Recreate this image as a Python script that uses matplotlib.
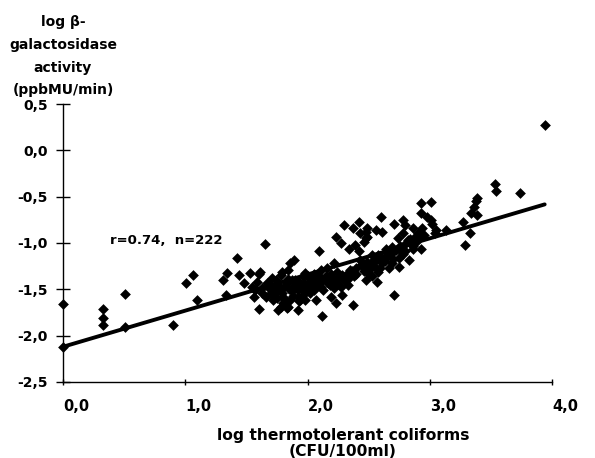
import matplotlib
matplotlib.use("Agg")
import matplotlib.pyplot as plt
import numpy as np

# log thermotolerant coliforms (CFU/100ml)
x_vals = [
    0.00, 0.00, 0.33, 0.33, 0.33, 0.51, 0.51, 0.90, 1.01, 1.06, 1.10,
    1.42, 1.34, 1.31, 1.44, 1.33, 1.53, 1.48, 1.61, 1.55, 1.59, 1.63, 1.56, 1.60,
    1.67, 1.70, 1.72, 1.75, 1.79, 1.86, 1.87, 1.83, 1.80, 1.83, 1.76, 1.86, 1.92,
    1.94, 1.97, 2.00, 2.02, 2.07, 2.09,
    1.65, 1.89, 1.60, 1.78, 1.84, 1.68, 1.74, 1.76, 1.90, 1.96, 1.98, 2.01, 1.63,
    1.66, 1.57, 1.71, 1.75, 1.79, 1.82, 1.84, 1.78, 1.87, 1.92, 1.93, 1.97, 1.98,
    2.04, 2.05, 1.92,
    2.42, 2.37, 2.30, 2.48, 2.49, 2.23, 2.27, 2.39, 2.34, 2.42, 2.09, 2.46, 2.22,
    2.43, 2.46, 2.49, 2.35, 2.38, 2.05, 2.11, 2.16, 2.08, 2.15, 2.19, 2.24, 2.28,
    2.11, 2.17, 2.23, 2.30, 2.05, 2.13, 2.22, 2.27, 2.33, 2.07, 2.19, 2.28, 2.37,
    2.12, 2.43, 2.23,
    2.93, 2.93, 2.60, 2.78, 2.80, 2.71, 2.56, 2.61, 2.49, 2.48, 2.86, 2.90, 2.94,
    2.78, 2.74, 2.82, 2.89, 2.64, 2.69, 2.75, 2.80, 2.86, 2.53, 2.58, 2.64, 2.75,
    2.83, 2.54, 2.61, 2.69, 2.50, 2.59, 2.67, 2.75, 2.53, 2.57, 2.48, 2.71,
    3.01, 3.38, 3.36, 3.39, 2.98, 3.01, 3.02, 3.34, 3.39, 3.27, 3.13, 3.05, 3.04,
    3.33, 3.29, 2.93, 2.95, 3.94, 3.53, 3.54, 3.74, 2.84,
    1.73, 1.77, 1.81, 1.85, 1.89, 1.95, 1.99, 2.03, 1.69, 1.80, 1.88, 1.96, 2.00,
    1.84, 1.93, 1.71,
    2.14, 2.20, 2.26, 2.32, 2.36, 2.40, 2.44, 2.18, 2.25, 2.33, 2.40, 2.46, 2.10,
    2.02,
    2.52, 2.56, 2.60, 2.64, 2.68, 2.72, 2.76, 2.80, 2.84, 2.88, 2.55, 2.63, 2.70,
    2.78, 2.86, 2.90, 2.50, 2.58,
]

# log beta-galactosidase activity (ppbMU/min)
y_vals = [
    -1.66, -2.12, -1.71, -1.81, -1.88, -1.55, -1.91, -1.88, -1.43, -1.35, -1.61,
    -1.16, -1.32, -1.40, -1.34, -1.56, -1.32, -1.43, -1.31, -1.47, -1.42, -1.49, -1.58, -1.71,
    -1.43, -1.54, -1.61, -1.52, -1.31, -1.22, -1.40, -1.43, -1.65, -1.70, -1.72, -1.61, -1.51,
    -1.61, -1.43, -1.36, -1.54, -1.47, -1.36,
    -1.01, -1.18, -1.33, -1.34, -1.29, -1.43, -1.40, -1.45, -1.40, -1.36, -1.32, -1.38, -1.54,
    -1.58, -1.51, -1.56, -1.59, -1.54, -1.61, -1.69, -1.69, -1.52, -1.58, -1.63, -1.51, -1.61,
    -1.43, -1.48, -1.72,
    -0.77, -0.84, -0.81, -0.88, -0.93, -0.93, -1.00, -1.02, -1.06, -1.09, -1.09, -0.99, -1.22,
    -1.18, -1.26, -1.20, -1.29, -1.36, -1.33, -1.29, -1.27, -1.40, -1.36, -1.33, -1.31, -1.34,
    -1.47, -1.43, -1.42, -1.40, -1.51, -1.51, -1.49, -1.47, -1.45, -1.61, -1.58, -1.56, -1.67,
    -1.79, -0.89, -1.65,
    -0.57, -0.68, -0.72, -0.75, -0.81, -0.79, -0.86, -0.88, -0.84, -0.95, -0.84, -0.89, -0.84,
    -0.89, -0.95, -0.97, -0.99, -1.06, -1.04, -1.07, -1.09, -1.07, -1.13, -1.13, -1.15, -1.16,
    -1.18, -1.18, -1.22, -1.22, -1.29, -1.27, -1.27, -1.26, -1.36, -1.42, -1.40, -1.56,
    -0.56, -0.55, -0.61, -0.51, -0.72, -0.75, -0.79, -0.68, -0.70, -0.77, -0.86, -0.86, -0.89,
    -0.89, -1.02, -1.07, -0.91, 0.27, -0.36, -0.44, -0.46, -1.00,
    -1.48, -1.50, -1.47, -1.50, -1.46, -1.48, -1.46, -1.41, -1.50, -1.58, -1.57, -1.56, -1.50,
    -1.39, -1.42, -1.38,
    -1.39, -1.38, -1.36, -1.33, -1.30, -1.27, -1.24, -1.45, -1.44, -1.39, -1.33, -1.30, -1.43,
    -1.47,
    -1.22, -1.18, -1.15, -1.10, -1.12, -1.08, -1.03, -1.01, -0.96, -0.93, -1.26, -1.19, -1.17,
    -1.12, -1.03, -0.95, -1.33, -1.31,
]

# regression line
fit_intercept = -2.12
fit_slope = 0.39
fit_x_range = [0.0, 3.94]

x_ticks = [0.0, 1.0, 2.0, 3.0, 4.0]
x_ticklabels = ["0,0", "1,0", "2,0", "3,0", "4,0"]
y_ticks = [0.5, 0.0, -0.5, -1.0, -1.5, -2.0, -2.5]
y_ticklabels = ["0,5", "0,0", "-0,5", "-1,0", "-1,5", "-2,0", "-2,5"]

plt.rcParams['font.family'] = ['DejaVu Sans']
plt.rcParams['font.weight'] = 'bold'

fig = plt.figure(figsize=(5.95, 4.58), dpi=100)
ax = fig.add_axes([63/595, 1 - 382/458, (552 - 63)/595, (382 - 104)/458])

ax.scatter(x_vals, y_vals, marker='D', s=30, color='black', linewidths=0, zorder=3, clip_on=False)

fx = np.array(fit_x_range)
ax.plot(fx, fit_intercept + fit_slope * fx, color='black', lw=2.8, solid_capstyle='round', zorder=4)

ax.set_xlim(0, 4)
ax.set_ylim(-2.5, 0.5)
for s in ['top', 'right']:
    ax.spines[s].set_visible(False)
for s in ['left', 'bottom']:
    ax.spines[s].set_linewidth(1.0)
    ax.spines[s].set_color('black')

ax.set_xticks(x_ticks)
ax.set_xticklabels(x_ticklabels, fontsize=10.5, fontweight='bold')
ax.set_yticks(y_ticks)
ax.set_yticklabels(y_ticklabels, fontsize=10, fontweight='bold')
ax.tick_params(axis='y', direction='inout', length=10, width=1, pad=6)
ax.tick_params(axis='x', direction='inout', length=5, width=1, pad=10)
for lbl in ax.get_xticklabels():
    lbl.set_horizontalalignment('left')

ax.text(0.385, -0.97, "r=0.74,  n=222", fontsize=9.5, fontweight='bold', va='center', ha='left')

fig.text(63/595, 1 - 15/458, "log β-\ngalactosidase\nactivity\n(ppbMU/min)",
         ha='center', va='top', fontsize=10, fontweight='bold', linespacing=1.8)
fig.text(343/595, 1 - 428/458, "log thermotolerant coliforms\n(CFU/100ml)",
         ha='center', va='top', fontsize=11.2, fontweight='bold', linespacing=1.05)

fig.savefig("out.png", dpi=100)
